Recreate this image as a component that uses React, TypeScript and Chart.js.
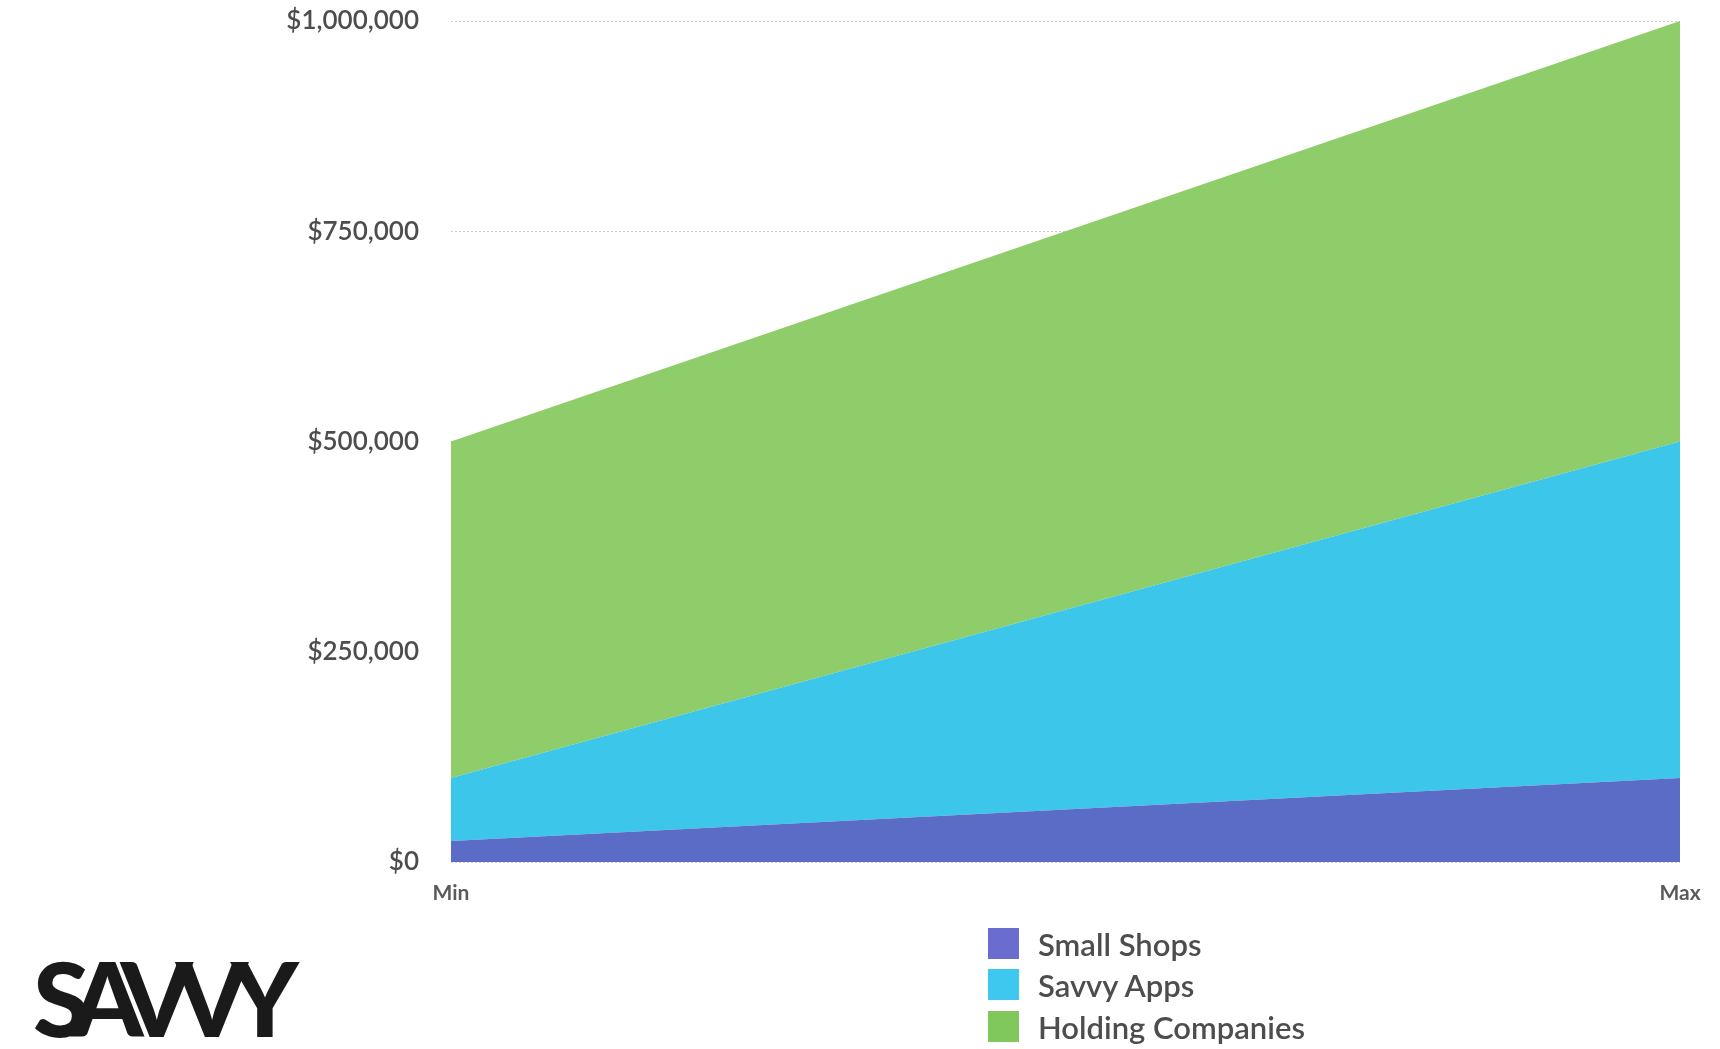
import React, { useEffect, useRef } from "react";
import { Chart, registerables } from "chart.js";

Chart.register(...registerables);

// Revenue range per customer segment, stacked from the bottom up
const categories = ["Min", "Max"];
const seriesNames = ["Small Shops", "Savvy Apps", "Holding Companies"];
const smallShops = [25000, 100000];
const savvyApps = [75000, 400000];
const holdingCompanies = [400000, 500000];
const yTicks = [0, 250000, 500000, 750000, 1000000];

const areaColors = ["#5b6cc6", "#3cc6e9", "#8ecd69"];
const legendColors = ["#6a6cd0", "#3ec8f0", "#80c85c"];

const W = 1720;
const H = 1049;
const FONT = "Lato, 'Noto Sans', sans-serif";

export default function App() {
  const canvasRef = useRef<HTMLCanvasElement | null>(null);

  useEffect(() => {
    if (!canvasRef.current) return;
    const seriesValues = [smallShops, savvyApps, holdingCompanies];
    const chart = new Chart(canvasRef.current, {
      type: "line",
      data: {
        labels: categories,
        datasets: seriesNames.map((name, i) => ({
          label: name,
          data: seriesValues[i],
          backgroundColor: areaColors[i],
          borderColor: areaColors[i],
          borderWidth: 0,
          pointRadius: 0,
          pointHoverRadius: 0,
          tension: 0,
          fill: i === 0 ? "origin" : "-1",
        })),
      },
      options: {
        responsive: false,
        animation: false,
        events: [],
        layout: { padding: { top: 21, right: 40, bottom: 0, left: 0 } },
        plugins: {
          legend: { display: false },
          tooltip: { enabled: false },
        },
        scales: {
          x: {
            type: "category",
            offset: false,
            grid: { display: false },
            border: { display: false },
            ticks: {
              maxRotation: 0,
              autoSkip: false,
              padding: 11,
              color: "#5a5a5a",
              font: { family: FONT, size: 21, weight: "bold" },
            },
            afterFit: (scale: any) => {
              scale.height = H - 862;
            },
          },
          y: {
            stacked: true,
            min: 0,
            max: 1000000,
            afterBuildTicks: (scale: any) => {
              scale.ticks = yTicks.map((v) => ({ value: v }));
            },
            ticks: {
              padding: 32,
              color: "#4d4d4d",
              font: { family: FONT, size: 26, weight: 600 },
              callback: (v: any) => "$" + Number(v).toLocaleString("en-US"),
            },
            grid: { color: "#cfcfcf", lineWidth: 1, drawTicks: false },
            border: { display: false, dash: [2, 2] },
            afterFit: (scale: any) => {
              scale.width = 451;
              scale.paddingTop = 0;
              scale.paddingBottom = 0;
            },
          },
        },
      },
    });
    return () => chart.destroy();
  }, []);

  return (
    <div
      style={{
        position: "absolute",
        left: 0,
        top: 0,
        width: W,
        height: H,
        background: "#ffffff",
        overflow: "hidden",
      }}
    >
      <canvas ref={canvasRef} width={W} height={H} style={{ display: "block" }} />
      <div
        style={{
          position: "absolute",
          left: 33,
          top: 946,
          fontFamily: FONT,
          fontWeight: 900,
          fontSize: 103,
          lineHeight: "103px",
          letterSpacing: -17,
          color: "#1a1a1a",
        }}
      >
        SAVVY
      </div>
      {seriesNames.map((name, i) => (
        <div
          key={name}
          style={{
            position: "absolute",
            left: 988,
            top: [928, 969, 1011][i],
            height: 31,
            display: "flex",
            alignItems: "center",
            fontFamily: FONT,
            fontSize: 31,
            fontWeight: 600,
            color: "#4d4d4d",
            whiteSpace: "nowrap",
          }}
        >
          <span
            style={{
              display: "inline-block",
              width: 31,
              height: 31,
              background: legendColors[i],
              marginRight: 19,
            }}
          />
          {name}
        </div>
      ))}
    </div>
  );
}
